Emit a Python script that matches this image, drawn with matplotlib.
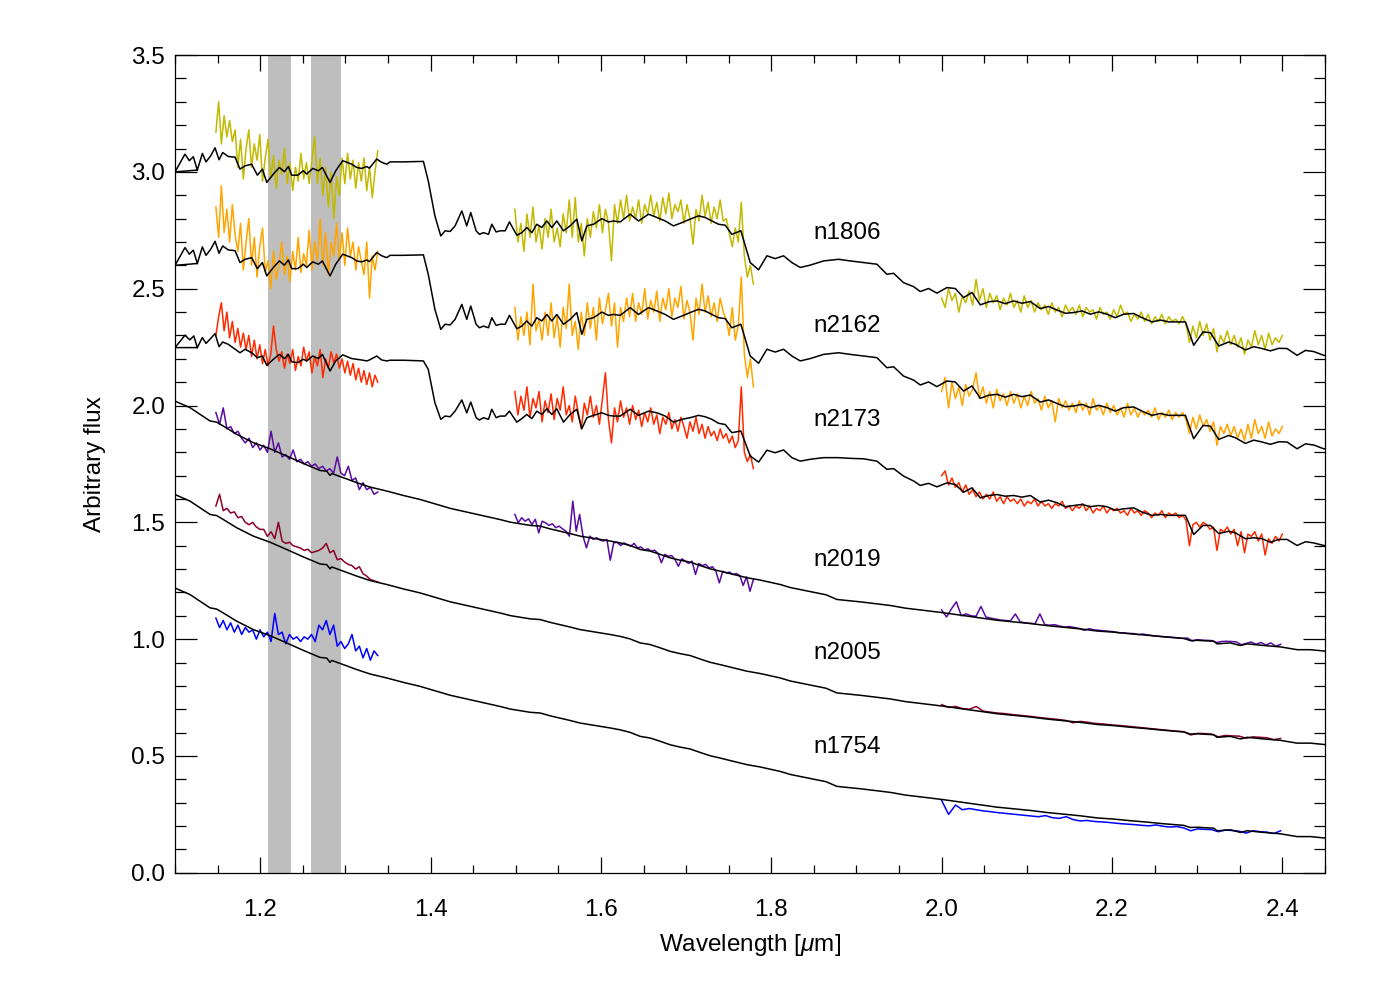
import matplotlib
matplotlib.use("Agg")
import matplotlib.pyplot as plt
import numpy as np
from matplotlib.ticker import MultipleLocator

plt.rcParams['font.family'] = ['Liberation Sans', 'DejaVu Sans']
plt.rcParams['mathtext.fontset'] = 'custom'
plt.rcParams['mathtext.rm'] = 'Liberation Sans'
plt.rcParams['mathtext.it'] = 'Liberation Sans:italic'

######################################################################
#####     DATA     ########
######################################################################

names = ['n1806', 'n2162', 'n2173', 'n2019', 'n2005', 'n1754']
colors = ['#c2b900', '#ffa500', '#ff2a00', '#5a0aa0', '#8b0028', '#0000ff']
label_x = 1.85
label_y = [2.74, 2.34, 1.94, 1.34, 0.94, 0.54]

# telluric bands masked in grey
bands = [(1.209, 1.236), (1.260, 1.295)]

# wavelength ranges of the observed segments
j_range = (1.148, 1.338)
h_range = (1.499, 1.779)
k_range = (2.000, 2.400)
k_range_short = (2.000, 2.398)

# model for n1806 (n2162 uses the same model, shifted)
model_a_wl = [1.1262, 1.1000, 1.1117, 1.1168, 1.1215, 1.1262, 1.1321, 1.1364, 1.1419, 1.1470,
              1.1517, 1.1560, 1.1626, 1.1705, 1.1763, 1.1822, 1.1900, 1.1967, 1.2026, 1.2077,
              1.2155, 1.2225, 1.2284, 1.2331, 1.2370, 1.2441, 1.2507, 1.2546, 1.2617, 1.2683,
              1.2730, 1.2820, 1.2887, 1.2969, 1.3075, 1.3133, 1.3192, 1.3251, 1.3282, 1.3368,
              1.3427, 1.3486, 1.3525, 1.3682, 1.3916, 1.3973, 1.4051,
              1.4120, 1.4171, 1.4230, 1.4288, 1.4367, 1.4425, 1.4472, 1.4535, 1.4574, 1.4621,
              1.4680, 1.4719, 1.4770, 1.4817, 1.4876, 1.4926, 1.5013, 1.5071, 1.5130, 1.5189,
              1.5247, 1.5306, 1.5365, 1.5424, 1.5482, 1.5561, 1.5639, 1.5717, 1.5776, 1.5835,
              1.5913, 1.6011, 1.6089, 1.6148, 1.6226, 1.6344, 1.6441, 1.6559, 1.6657, 1.6755,
              1.6852, 1.6950, 1.7048, 1.7146, 1.7224, 1.7303, 1.7381, 1.7459, 1.7537, 1.7643,
              1.7753, 1.7851, 1.7949, 1.8046, 1.8144, 1.8242, 1.8340, 1.8457, 1.8614, 1.8790,
              1.8927, 1.9084, 1.9240, 1.9357, 1.9436, 1.9553, 1.9671, 1.9749, 1.9847, 1.9945,
              2.0062, 2.0160, 2.0258, 2.0356, 2.0454, 2.0552, 2.0650, 2.0747, 2.0845, 2.0943,
              2.1041, 2.1158, 2.1256, 2.1354, 2.1452, 2.1550, 2.1648, 2.1746, 2.1844, 2.1941,
              2.2039, 2.2137, 2.2255, 2.2353, 2.2470, 2.2568, 2.2666, 2.2764, 2.2862, 2.2959,
              2.3069, 2.3155, 2.3253, 2.3370, 2.3449, 2.3566, 2.3664, 2.3762, 2.3860, 2.3958,
              2.4055, 2.4173, 2.4271, 2.4369, 2.4486, 2.4600]
model_a_flux = [3.008, 3.000, 3.076, 3.048, 3.065, 3.008, 3.079, 3.043, 3.069, 3.103,
                3.052, 3.083, 3.066, 3.063, 3.012, 3.026, 3.033, 2.986, 3.012, 2.955,
                2.991, 3.019, 3.001, 3.023, 2.986, 2.986, 3.005, 2.991, 3.015, 3.005,
                3.019, 2.955, 3.005, 3.048, 3.033, 3.019, 3.015, 3.023, 3.016, 3.055,
                3.041, 3.033, 3.043, 3.043, 3.045, 2.962, 2.812,
                2.726, 2.748, 2.745, 2.769, 2.833, 2.769, 2.826, 2.748, 2.733, 2.740,
                2.733, 2.776, 2.743, 2.748, 2.748, 2.786, 2.729, 2.740, 2.762, 2.740,
                2.776, 2.762, 2.790, 2.762, 2.790, 2.748, 2.769, 2.798, 2.705, 2.769,
                2.776, 2.800, 2.786, 2.790, 2.786, 2.819, 2.790, 2.819, 2.805, 2.790,
                2.769, 2.783, 2.798, 2.812, 2.805, 2.790, 2.776, 2.772, 2.733, 2.748,
                2.612, 2.581, 2.641, 2.629, 2.641, 2.612, 2.591, 2.601, 2.619, 2.626,
                2.619, 2.612, 2.605, 2.562, 2.566, 2.526, 2.509, 2.488, 2.501, 2.481,
                2.505, 2.501, 2.462, 2.484, 2.431, 2.444, 2.448, 2.436, 2.448, 2.438,
                2.445, 2.415, 2.424, 2.409, 2.395, 2.398, 2.405, 2.391, 2.401, 2.391,
                2.376, 2.391, 2.394, 2.376, 2.358, 2.366, 2.358, 2.358, 2.358, 2.258,
                2.315, 2.312, 2.255, 2.272, 2.262, 2.238, 2.252, 2.244, 2.234, 2.245,
                2.244, 2.215, 2.236, 2.231, 2.215, 2.210]

# model for n2173
model_b_wl = [1.1262, 1.1000, 1.1117, 1.1174, 1.1221, 1.1262, 1.1321, 1.1364, 1.1419, 1.1470,
              1.1517, 1.1560, 1.1626, 1.1705, 1.1763, 1.1822, 1.1900, 1.1967, 1.2026, 1.2077,
              1.2155, 1.2225, 1.2284, 1.2331, 1.2370, 1.2441, 1.2507, 1.2546, 1.2617, 1.2683,
              1.2730, 1.2820, 1.2887, 1.2969, 1.3075, 1.3133, 1.3192, 1.3251, 1.3282, 1.3368,
              1.3427, 1.3486, 1.3525, 1.3682, 1.3916, 1.3973, 1.4051,
              1.4120, 1.4171, 1.4230, 1.4288, 1.4367, 1.4425, 1.4472, 1.4535, 1.4574, 1.4621,
              1.4680, 1.4719, 1.4770, 1.4817, 1.4876, 1.4926, 1.5013, 1.5071, 1.5130, 1.5189,
              1.5247, 1.5306, 1.5365, 1.5424, 1.5482, 1.5561, 1.5639, 1.5717, 1.5776, 1.5835,
              1.5913, 1.6011, 1.6089, 1.6148, 1.6226, 1.6344, 1.6441, 1.6559, 1.6657, 1.6755,
              1.6852, 1.6950, 1.7048, 1.7146, 1.7224, 1.7303, 1.7381, 1.7459, 1.7537, 1.7643,
              1.7753, 1.7851, 1.7949, 1.8046, 1.8144, 1.8242, 1.8340, 1.8457, 1.8614, 1.8790,
              1.8927, 1.9084, 1.9240, 1.9357, 1.9436, 1.9553, 1.9671, 1.9749, 1.9847, 1.9945,
              2.0062, 2.0160, 2.0258, 2.0356, 2.0454, 2.0552, 2.0650, 2.0747, 2.0845, 2.0943,
              2.1041, 2.1158, 2.1256, 2.1354, 2.1452, 2.1550, 2.1648, 2.1746, 2.1844, 2.1941,
              2.2039, 2.2137, 2.2255, 2.2353, 2.2470, 2.2568, 2.2666, 2.2764, 2.2862, 2.2959,
              2.3069, 2.3155, 2.3253, 2.3370, 2.3449, 2.3566, 2.3664, 2.3762, 2.3860, 2.3958,
              2.4055, 2.4173, 2.4271, 2.4369, 2.4486, 2.4600]
model_b_flux = [2.248, 2.248, 2.301, 2.281, 2.298, 2.248, 2.291, 2.266, 2.287, 2.308,
                2.252, 2.272, 2.262, 2.241, 2.226, 2.241, 2.226, 2.205, 2.212, 2.172,
                2.198, 2.219, 2.201, 2.219, 2.187, 2.184, 2.198, 2.191, 2.212, 2.201,
                2.219, 2.148, 2.191, 2.217, 2.201, 2.198, 2.195, 2.191, 2.195, 2.212,
                2.195, 2.191, 2.194, 2.194, 2.191, 2.155, 2.012,
                1.941, 1.955, 1.952, 1.976, 2.024, 1.969, 2.015, 1.948, 1.938, 1.948,
                1.941, 1.984, 1.948, 1.955, 1.955, 1.976, 1.929, 1.944, 1.962, 1.944,
                1.976, 1.962, 1.986, 1.962, 1.986, 1.929, 1.962, 1.984, 1.901, 1.948,
                1.958, 1.969, 1.958, 1.955, 1.955, 1.984, 1.958, 1.976, 1.969, 1.955,
                1.929, 1.941, 1.948, 1.958, 1.952, 1.941, 1.924, 1.919, 1.884, 1.891,
                1.784, 1.758, 1.809, 1.798, 1.810, 1.777, 1.762, 1.770, 1.777, 1.777,
                1.774, 1.772, 1.762, 1.727, 1.730, 1.698, 1.677, 1.658, 1.667, 1.652,
                1.669, 1.662, 1.629, 1.648, 1.605, 1.615, 1.619, 1.612, 1.615, 1.608,
                1.615, 1.587, 1.595, 1.584, 1.567, 1.572, 1.577, 1.567, 1.572, 1.567,
                1.552, 1.558, 1.562, 1.544, 1.530, 1.534, 1.530, 1.530, 1.530, 1.448,
                1.487, 1.487, 1.452, 1.462, 1.455, 1.430, 1.434, 1.430, 1.415, 1.427,
                1.427, 1.401, 1.417, 1.412, 1.401, 1.400]

# model for n2019 (n2005 and n1754 use the same model, shifted)
model_c_wl = [1.1000, 1.1176, 1.1411, 1.1489, 1.1568, 1.1724, 1.1920, 1.2116, 1.2311, 1.2507,
              1.2703, 1.2781, 1.2820, 1.2840, 1.2977, 1.3133, 1.3290, 1.3486, 1.3682, 1.3877,
              1.4073, 1.4230, 1.4817, 1.4934, 1.5052, 1.5169, 1.5287, 1.5404, 1.5521, 1.5639,
              1.5756, 1.5874, 1.5991, 1.6109, 1.6226, 1.6343, 1.6461, 1.6578, 1.6696, 1.6813,
              1.6931, 1.7048, 1.7166, 1.7283, 1.7401, 1.7557, 1.7714, 1.7870, 1.8105, 1.8223,
              1.8643, 1.8770, 1.9065, 1.9402, 1.9571, 1.9867, 2.0023, 2.0258, 2.0454, 2.0650,
              2.0845, 2.1041, 2.1237, 2.1433, 2.1628, 2.1824, 2.2020, 2.2216, 2.2411, 2.2607,
              2.2842, 2.2920, 2.2998, 2.3194, 2.3233, 2.3390, 2.3507, 2.3586, 2.3781, 2.3977,
              2.4173, 2.4330, 2.4525]
model_c_flux = [2.019, 1.991, 1.934, 1.929, 1.912, 1.877, 1.841, 1.815, 1.784, 1.752,
                1.722, 1.719, 1.701, 1.709, 1.691, 1.670, 1.651, 1.634, 1.615, 1.598,
                1.577, 1.560, 1.512, 1.501, 1.494, 1.487, 1.484, 1.472, 1.462, 1.452,
                1.441, 1.434, 1.427, 1.420, 1.412, 1.401, 1.384, 1.377, 1.363, 1.348,
                1.338, 1.330, 1.315, 1.301, 1.291, 1.277, 1.263, 1.253, 1.234, 1.221,
                1.190, 1.170, 1.159, 1.144, 1.133, 1.120, 1.113, 1.101, 1.091, 1.081,
                1.074, 1.067, 1.058, 1.051, 1.044, 1.035, 1.030, 1.023, 1.017, 1.010,
                1.003, 0.994, 0.995, 0.991, 0.980, 0.984, 0.973, 0.980, 0.973, 0.967,
                0.955, 0.955, 0.948]

model_of = ['a', 'a', 'b', 'c', 'c', 'c']
model_shift = [0.0, -0.40, 0.0, 0.0, -0.40, -0.80]

# observed spectra, J band
n1806_j = [3.17, 3.30, 3.12, 3.24, 3.15, 3.22, 3.13, 3.18, 3.02, 3.14,
           2.97, 3.10, 3.18, 3.02, 3.12, 3.05, 3.16, 2.96, 3.06, 3.14,
           2.97, 3.07, 2.93, 3.05, 2.99, 3.10, 2.95, 3.04, 2.92, 3.02,
           2.96, 3.08, 2.97, 3.04, 2.95, 3.05, 3.15, 2.95, 3.06, 2.90,
           3.02, 2.85, 3.00, 2.80, 2.98, 2.90, 3.06, 2.95, 3.08, 2.97,
           3.05, 2.93, 3.04, 2.96, 3.06, 2.92, 3.02, 2.89, 3.00, 3.09]
n2162_j = [2.85, 2.72, 2.94, 2.74, 2.84, 2.70, 2.86, 2.73, 2.66, 2.78,
           2.58, 2.70, 2.80, 2.60, 2.72, 2.55, 2.68, 2.76, 2.57, 2.62,
           2.50, 2.66, 2.54, 2.60, 2.70, 2.56, 2.64, 2.53, 2.66, 2.58,
           2.72, 2.57, 2.65, 2.60, 2.75, 2.58, 2.70, 2.62, 2.80, 2.60,
           2.74, 2.56, 2.70, 2.64, 2.78, 2.62, 2.74, 2.60, 2.76, 2.64,
           2.70, 2.58, 2.68, 2.62, 2.56, 2.70, 2.46, 2.64, 2.58, 2.66]
n2173_j = [2.30, 2.38, 2.44, 2.32, 2.40, 2.29, 2.36, 2.27, 2.33, 2.25,
           2.31, 2.24, 2.30, 2.21, 2.28, 2.20, 2.26, 2.18, 2.24, 2.17,
           2.22, 2.34, 2.24, 2.19, 2.23, 2.16, 2.22, 2.18, 2.24, 2.15,
           2.21, 2.17, 2.25, 2.19, 2.23, 2.14, 2.21, 2.17, 2.24, 2.12,
           2.20, 2.16, 2.23, 2.18, 2.22, 2.16, 2.20, 2.14, 2.19, 2.13,
           2.18, 2.11, 2.16, 2.10, 2.15, 2.09, 2.14, 2.08, 2.13, 2.10]
n2019_j = [1.97, 1.92, 1.99, 1.90, 1.91, 1.88, 1.89, 1.86, 1.84, 1.86,
           1.82, 1.84, 1.81, 1.83, 1.80, 1.89, 1.80, 1.84, 1.78, 1.79,
           1.77, 1.81, 1.76, 1.77, 1.75, 1.76, 1.74, 1.75, 1.73, 1.74,
           1.72, 1.73, 1.71, 1.78, 1.71, 1.70, 1.74, 1.68, 1.69, 1.64,
           1.67, 1.64, 1.65, 1.62, 1.63]
n2005_j = [1.57, 1.62, 1.55, 1.56, 1.54, 1.545, 1.52, 1.525, 1.50, 1.49,
           1.50, 1.48, 1.47, 1.47, 1.44, 1.46, 1.43, 1.50, 1.42, 1.41,
           1.415, 1.40, 1.395, 1.39, 1.38, 1.385, 1.37, 1.375, 1.38, 1.39,
           1.41, 1.37, 1.38, 1.34, 1.345, 1.33, 1.32, 1.315, 1.30, 1.31,
           1.28, 1.27, 1.255, 1.25, 1.245]
n1754_j = [1.09, 1.05, 1.08, 1.04, 1.07, 1.03, 1.06, 1.02, 1.05, 1.03,
           1.04, 1.00, 1.04, 1.01, 1.03, 0.99, 1.11, 1.02, 1.03, 0.98,
           1.02, 1.00, 1.01, 0.99, 1.01, 1.00, 1.02, 0.99, 1.06, 1.04,
           1.08, 1.02, 1.06, 0.97, 0.99, 0.96, 0.98, 1.02, 0.95, 0.97,
           0.92, 0.96, 0.91, 0.95, 0.93]

# observed spectra, H band
n1806_h = [2.84, 2.70, 2.78, 2.66, 2.82, 2.72, 2.85, 2.70, 2.77, 2.67,
           2.80, 2.72, 2.84, 2.70, 2.76, 2.68, 2.82, 2.74, 2.88, 2.72,
           2.89, 2.70, 2.78, 2.64, 2.80, 2.72, 2.83, 2.76, 2.86, 2.74,
           2.84, 2.78, 2.62, 2.86, 2.78, 2.88, 2.80, 2.90, 2.79, 2.85,
           2.80, 2.88, 2.78, 2.86, 2.82, 2.90, 2.81, 2.87, 2.79, 2.89,
           2.82, 2.91, 2.80, 2.86, 2.83, 2.88, 2.78, 2.86, 2.80, 2.69,
           2.84, 2.79, 2.90, 2.81, 2.87, 2.78, 2.85, 2.80, 2.88, 2.79,
           2.80, 2.74, 2.68, 2.76, 2.70, 2.87, 2.64, 2.55, 2.60, 2.52]
n2162_h = [2.42, 2.28, 2.38, 2.30, 2.40, 2.26, 2.52, 2.32, 2.37, 2.28,
           2.40, 2.30, 2.44, 2.29, 2.38, 2.25, 2.42, 2.33, 2.52, 2.30,
           2.36, 2.24, 2.40, 2.30, 2.44, 2.33, 2.42, 2.28, 2.46, 2.35,
           2.41, 2.48, 2.34, 2.44, 2.25, 2.42, 2.36, 2.46, 2.38, 2.48,
           2.36, 2.44, 2.39, 2.50, 2.37, 2.45, 2.40, 2.49, 2.36, 2.46,
           2.41, 2.50, 2.38, 2.46, 2.42, 2.51, 2.37, 2.45, 2.40, 2.28,
           2.46, 2.39, 2.52, 2.40, 2.47, 2.38, 2.44, 2.36, 2.46, 2.40,
           2.37, 2.30, 2.42, 2.28, 2.34, 2.55, 2.22, 2.12, 2.20, 2.08]
n2173_h = [2.06, 1.96, 2.04, 1.98, 2.08, 1.95, 2.03, 1.99, 2.06, 1.93,
           2.02, 1.97, 2.05, 1.94, 2.03, 1.98, 2.08, 1.96, 2.00, 1.93,
           2.04, 1.97, 1.90, 2.01, 1.96, 2.04, 1.95, 2.00, 1.92, 2.03,
           2.14, 1.94, 1.84, 1.99, 1.93, 2.02, 1.95, 1.99, 1.92, 2.00,
           1.94, 1.98, 1.91, 1.97, 1.93, 1.99, 1.92, 1.96, 1.88, 1.95,
           1.92, 1.97, 1.90, 1.94, 1.89, 1.95, 1.91, 1.86, 1.93, 1.89,
           1.95, 1.88, 1.92, 1.86, 1.91, 1.87, 1.89, 1.85, 1.90, 1.86,
           1.88, 1.84, 1.87, 1.82, 1.85, 2.08, 1.80, 1.76, 1.79, 1.73]
n2019_h = [1.534, 1.498, 1.520, 1.505, 1.515, 1.491, 1.513, 1.455, 1.505, 1.498,
           1.487, 1.494, 1.477, 1.484, 1.472, 1.462, 1.441, 1.591, 1.462, 1.534,
           1.441, 1.391, 1.441, 1.427, 1.434, 1.424, 1.420, 1.427, 1.338, 1.412,
           1.415, 1.401, 1.412, 1.405, 1.398, 1.410, 1.391, 1.395, 1.381, 1.387,
           1.377, 1.381, 1.367, 1.327, 1.363, 1.355, 1.358, 1.341, 1.312, 1.344,
           1.334, 1.324, 1.334, 1.277, 1.324, 1.315, 1.320, 1.305, 1.310, 1.291,
           1.241, 1.291, 1.284, 1.287, 1.277, 1.281, 1.273, 1.230, 1.267, 1.205,
           1.255]

# observed spectra, K band
n1806_k = [2.46, 2.42, 2.50, 2.45, 2.48, 2.40, 2.47, 2.44, 2.49, 2.43,
           2.54, 2.45, 2.50, 2.42, 2.48, 2.44, 2.47, 2.41, 2.46, 2.43,
           2.48, 2.42, 2.45, 2.40, 2.47, 2.42, 2.45, 2.40, 2.44, 2.41,
           2.43, 2.39, 2.44, 2.40, 2.42, 2.38, 2.43, 2.40, 2.42, 2.39,
           2.43, 2.38, 2.42, 2.40, 2.41, 2.37, 2.42, 2.39, 2.40, 2.37,
           2.41, 2.38, 2.43, 2.39, 2.40, 2.36, 2.39, 2.37, 2.40, 2.36,
           2.39, 2.35, 2.38, 2.36, 2.39, 2.35, 2.38, 2.36, 2.37, 2.35,
           2.38, 2.35, 2.27, 2.34, 2.29, 2.36, 2.30, 2.35, 2.28, 2.33,
           2.23, 2.30, 2.27, 2.32, 2.26, 2.30, 2.25, 2.29, 2.22, 2.28,
           2.25, 2.32, 2.26, 2.30, 2.24, 2.31, 2.26, 2.29, 2.27, 2.30]
n2162_k = [2.06, 2.12, 1.99, 2.10, 2.03, 2.08, 2.00, 2.09, 2.04, 2.07,
           2.14, 2.03, 2.08, 2.01, 2.06, 1.99, 2.07, 2.02, 2.05, 2.00,
           2.06, 2.01, 2.05, 1.99, 2.04, 2.00, 2.06, 2.01, 2.03, 1.98,
           2.04, 1.99, 2.02, 1.93, 2.03, 1.99, 2.02, 1.98, 2.01, 1.97,
           2.02, 1.98, 2.01, 1.96, 2.03, 1.98, 2.00, 1.96, 2.01, 1.97,
           2.00, 1.96, 1.99, 1.95, 2.01, 1.96, 1.99, 1.95, 1.98, 1.96,
           1.98, 1.95, 1.99, 1.94, 1.97, 1.95, 1.98, 1.94, 1.97, 1.95,
           1.97, 1.94, 1.88, 1.95, 1.90, 1.96, 1.91, 1.94, 1.89, 1.93,
           1.83, 1.91, 1.88, 1.92, 1.87, 1.91, 1.86, 1.90, 1.85, 1.92,
           1.86, 1.94, 1.88, 1.91, 1.86, 1.93, 1.87, 1.90, 1.88, 1.91]
n2173_k = [1.70, 1.72, 1.66, 1.69, 1.65, 1.67, 1.63, 1.66, 1.62, 1.64,
           1.61, 1.63, 1.60, 1.62, 1.60, 1.63, 1.59, 1.61, 1.58, 1.61,
           1.59, 1.60, 1.58, 1.60, 1.57, 1.59, 1.58, 1.60, 1.57, 1.59,
           1.57, 1.58, 1.56, 1.58, 1.57, 1.59, 1.56, 1.57, 1.55, 1.57,
           1.56, 1.58, 1.55, 1.57, 1.54, 1.56, 1.55, 1.57, 1.54, 1.56,
           1.55, 1.56, 1.54, 1.55, 1.53, 1.56, 1.54, 1.55, 1.53, 1.55,
           1.54, 1.52, 1.54, 1.53, 1.55, 1.52, 1.54, 1.53, 1.54, 1.52,
           1.53, 1.51, 1.40, 1.49, 1.50, 1.48, 1.50, 1.49, 1.47, 1.48,
           1.38, 1.47, 1.46, 1.48, 1.45, 1.47, 1.40, 1.46, 1.37, 1.45,
           1.44, 1.46, 1.42, 1.45, 1.36, 1.43, 1.41, 1.44, 1.42, 1.45]
n2019_k = [1.125, 1.095, 1.130, 1.160, 1.100, 1.108, 1.100, 1.098, 1.140, 1.095,
           1.090, 1.086, 1.082, 1.080, 1.078, 1.108, 1.074, 1.070, 1.068, 1.066,
           1.108, 1.062, 1.060, 1.062, 1.056, 1.052, 1.054, 1.050, 1.046, 1.038,
           1.045, 1.040, 1.038, 1.036, 1.034, 1.032, 1.028, 1.027, 1.025, 1.024,
           1.020, 1.022, 1.018, 1.015, 1.013, 1.011, 1.010, 1.008, 1.006, 1.004,
           1.005, 0.992, 0.998, 0.996, 0.995, 0.994, 0.986, 0.990, 0.991, 0.990,
           0.988, 0.976, 0.982, 0.988, 0.978, 0.986, 0.975, 0.984, 0.970, 0.978]
n2005_k = [0.720, 0.708, 0.712, 0.703, 0.700, 0.712, 0.692, 0.688, 0.684, 0.682,
           0.678, 0.675, 0.672, 0.669, 0.665, 0.662, 0.659, 0.656, 0.652, 0.642,
           0.648, 0.645, 0.640, 0.638, 0.635, 0.632, 0.630, 0.627, 0.624, 0.621,
           0.618, 0.615, 0.612, 0.609, 0.606, 0.604, 0.590, 0.597, 0.596, 0.594,
           0.582, 0.588, 0.586, 0.585, 0.576, 0.582, 0.580, 0.578, 0.570, 0.575]
n1754_k = [0.310, 0.250, 0.290, 0.270, 0.275, 0.270, 0.265, 0.262, 0.258, 0.255,
           0.252, 0.249, 0.246, 0.243, 0.240, 0.245, 0.236, 0.233, 0.240, 0.228,
           0.222, 0.224, 0.220, 0.218, 0.216, 0.213, 0.210, 0.208, 0.206, 0.203,
           0.201, 0.205, 0.199, 0.196, 0.198, 0.192, 0.180, 0.188, 0.186, 0.185,
           0.176, 0.183, 0.181, 0.178, 0.170, 0.180, 0.176, 0.174, 0.168, 0.180]

j_data = [n1806_j, n2162_j, n2173_j, n2019_j, n2005_j, n1754_j]
h_data = [n1806_h, n2162_h, n2173_h, n2019_h, None, None]
k_data = [n1806_k, n2162_k, n2173_k, n2019_k, n2005_k, n1754_k]
k_ranges = [k_range, k_range, k_range, k_range_short, k_range_short, k_range_short]

models = {'a': (model_a_wl, model_a_flux),
          'b': (model_b_wl, model_b_flux),
          'c': (model_c_wl, model_c_flux)}


def draw_segment(ax, wl_range, flux, color):
    wl = np.linspace(wl_range[0], wl_range[1], len(flux))
    ax.plot(wl, flux, color=color, lw=1.1, zorder=2)


fig = plt.figure(figsize=(13.78, 9.84), dpi=100)
ax = fig.add_axes([0.127, 0.113, 0.8345, 0.831])

for lo, hi in bands:
    ax.axvspan(lo, hi, color='#bebebe', lw=0, zorder=1)

for i, name in enumerate(names):
    draw_segment(ax, j_range, j_data[i], colors[i])
    if h_data[i] is not None:
        draw_segment(ax, h_range, h_data[i], colors[i])
    draw_segment(ax, k_ranges[i], k_data[i], colors[i])

    mwl, mflux = models[model_of[i]]
    ax.plot(mwl, np.array(mflux) + model_shift[i], color='black', lw=1.1, zorder=3)

    ax.text(label_x, label_y[i], name, fontsize=17.5, ha='left', va='center')

ax.set_xlim(1.1, 2.45)
ax.set_ylim(0, 3.5)
ax.xaxis.set_major_locator(MultipleLocator(0.2))
ax.xaxis.set_minor_locator(MultipleLocator(0.05))
ax.yaxis.set_major_locator(MultipleLocator(0.5))
ax.yaxis.set_minor_locator(MultipleLocator(0.1))
ax.tick_params(which='both', direction='in', top=True, right=True, width=0.9, labelsize=17.5)
ax.tick_params(axis='x', which='major', length=11.5, pad=19)
ax.tick_params(axis='x', which='minor', length=5.8)
ax.tick_params(axis='y', which='major', length=16, pad=7)
ax.tick_params(axis='y', which='minor', length=8)
for sp in ax.spines.values():
    sp.set_linewidth(0.9)

ax.set_xlabel(r'Wavelength [$\mu$m]', fontsize=17.5, labelpad=8)
ax.set_ylabel('Arbitrary flux', fontsize=17.5, labelpad=18)

fig.savefig('out.png', dpi=100)
